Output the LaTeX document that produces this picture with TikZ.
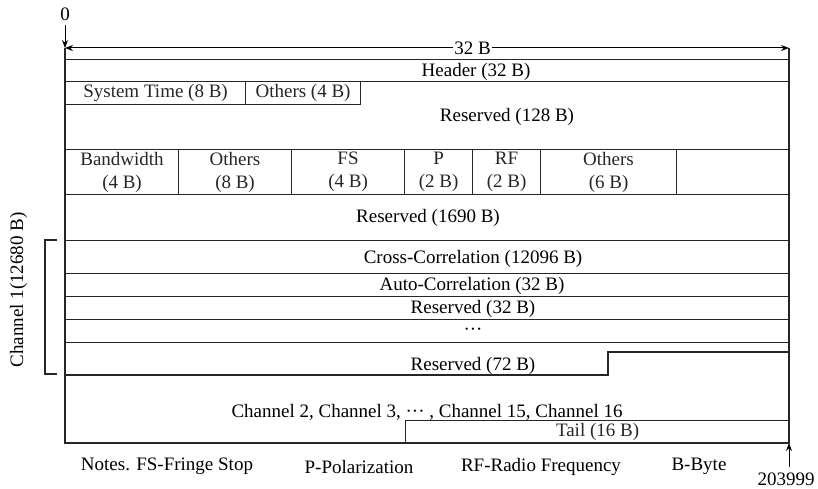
\documentclass[tikz,border=0pt]{standalone}
\usepackage{fontspec}
\setmainfont{Liberation Serif}
\usetikzlibrary{arrows.meta}

\begin{document}
\begin{tikzpicture}[
        x=1pt, y=-1pt,
        font=\fontsize{19}{23}\selectfont,
        ln/.style={line width=1.1pt, black!85},
        fld/.style={rectangle, draw, ln, inner sep=0pt, anchor=north west, align=center},
        txt/.style={inner sep=0pt, align=center, yshift=-1.5pt},
        arr/.style={-{Stealth[length=8pt, width=6pt]}, line width=1pt, black}
    ]
    \useasboundingbox (0,0) rectangle (818,489);

    % start / end marks
    \node[txt] (zero) at (65,13) {0};
    \node[txt] (last) at (786,478) {203999};
    \coordinate (tl) at (65,48);
    \coordinate (tr) at (789,48);
    \coordinate (bl) at (65,443);
    \coordinate (br) at (789,443);
    \coordinate (zs) at (65,25);
    \coordinate (ls) at (789,467);
    \draw[arr] (zs) -- (tl);
    \draw[arr] (ls) -- (br);

    % width of one line
    \draw[{Stealth[length=8pt, width=6pt]}-{Stealth[length=8pt, width=6pt]}, line width=1pt]
        (tl) -- (tr) node[pos=0.563, fill=white, inner sep=1.5pt] (wd) {32 B};

    % frame
    \draw[ln] (tl) -- (bl) -- (br) -- (tr);

    % header part
    \node[fld, minimum width=724pt, minimum height=22pt] (hdr) at (65,59) {};
    \node[txt] (hdrt) at (476,70) {Header (32 B)};
    \node[fld, minimum width=180pt, minimum height=23pt] (st) at (65,81) {System Time (8 B)};
    \node[fld, minimum width=115pt, minimum height=23pt] (o4) at (245,81) {Others (4 B)};
    \node[txt] (r128) at (507,115) {Reserved (128 B)};

    % fields
    \node[fld, minimum width=113pt, minimum height=45pt] (bw) at (65,149) {Bandwidth\\(4 B)};
    \node[fld, minimum width=113pt, minimum height=45pt] (o8) at (178,149) {Others\\(8 B)};
    \node[fld, minimum width=113pt, minimum height=45pt] (fs) at (291,149) {FS\\(4 B)};
    \node[fld, minimum width=68pt, minimum height=45pt] (pp) at (404,149) {P\\(2 B)};
    \node[fld, minimum width=68pt, minimum height=45pt] (rf) at (472,149) {RF\\(2 B)};
    \node[fld, minimum width=136pt, minimum height=45pt] (o6) at (540,149) {Others\\(6 B)};
    \node[fld, minimum width=113pt, minimum height=45pt] (emp) at (676,149) {};
    \node[txt] (r1690) at (428,216) {Reserved (1690 B)};

    % channel 1
    \node[fld, minimum width=724pt, minimum height=33pt] (cc) at (65,240) {};
    \node[txt] (cct) at (473,257) {Cross-Correlation (12096 B)};
    \node[fld, minimum width=724pt, minimum height=23pt] (ac) at (65,273) {};
    \node[txt] (act) at (472,284) {Auto-Correlation (32 B)};
    \node[fld, minimum width=724pt, minimum height=23pt] (r32) at (65,296) {};
    \node[txt] (r32t) at (473,307) {Reserved (32 B)};
    \node[fld, minimum width=724pt, minimum height=23pt] (dts) at (65,319) {};
    \node[txt] (dtst) at (473,330) {\char"00B7\char"00B7\char"00B7};
    \node[txt] (r72) at (473,364) {Reserved (72 B)};
    \draw[ln] (65,375) -- (608,375) -- (608,352) -- (789,352);

    % channel 1 brace
    \draw[ln] (57,240) -- (45,240) -- (45,374) -- (57,374);
    \node[txt, rotate=90, xshift=1.5pt, yshift=1.5pt] (ch1) at (20,290) {Channel 1(12680 B)};

    % other channels and tail
    \node[txt] (chn) at (427,411) {Channel 2, Channel 3, \char"00B7\char"00B7\char"00B7\ , Channel 15, Channel 16};
    \node[fld, minimum width=384pt, minimum height=23pt] (tail) at (405,420) {Tail (16 B)};

    % notes
    \node[txt] (n1) at (167,465) {Notes. FS-Fringe Stop};
    \node[txt] (n2) at (359,465) {P-Polarization};
    \node[txt] (n3) at (541,465) {RF-Radio Frequency};
    \node[txt] (n4) at (699,465) {B-Byte};
\end{tikzpicture}
\end{document}
